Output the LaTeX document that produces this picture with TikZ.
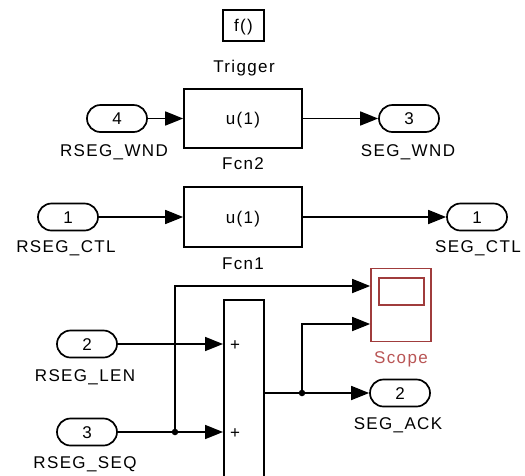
\documentclass[tikz,border=0pt]{standalone}
\usepackage{fontspec}
\newfontfamily\simfont{Liberation Sans}[LetterSpace=8]
\usetikzlibrary{arrows.meta}
\definecolor{scopered}{RGB}{160,60,60}
\definecolor{scopelbl}{RGB}{185,85,85}
\begin{document}
\begin{tikzpicture}[x=1pt,y=-1pt,
  every node/.style={font=\simfont\fontsize{17}{20}\selectfont, inner sep=0pt, text height=12pt, text depth=0pt},
  blk/.style={draw, line width=1.7pt, minimum width=118pt, minimum height=59pt},
  port/.style={draw, line width=1.7pt, rounded corners=13.5pt, minimum width=60pt, minimum height=27pt},
  sig/.style={line width=1.7pt, -{Triangle[length=18pt,width=14pt]}},
  dot/.style={circle, fill, minimum size=6.5pt, inner sep=0pt, text height=, text depth=}]
\clip (0,0) rectangle (525,475);
\fill[white] (0,0) rectangle (525,475);
% top part
\node[draw, line width=1.7pt, minimum width=41pt, minimum height=31pt] (trig) at (243.5,25.5) {f()};
\node (trigl) at (244,66) {Trigger};
\node[blk] (fcn2) at (243,118.5) {u(1)};
\node (fcn2l) at (243,163) {Fcn2};
\node[port] (in4) at (117,118.5) {4};
\node (in4l) at (114,150) {RSEG\_WND};
\node[port] (out3) at (409,118.5) {3};
\node (out3l) at (408,150) {SEG\_WND};
\node[blk, minimum height=60pt] (fcn1) at (243,217) {u(1)};
\node (fcn1l) at (243,263) {Fcn1};
\node[port] (in1) at (68,217) {1};
\node (in1l) at (66,246) {RSEG\_CTL};
\node[port] (out1) at (477,217) {1};
\node (out1l) at (478,246) {SEG\_CTL};
% scope
\node[draw=scopered, line width=1.7pt, minimum width=60pt, minimum height=73pt] (scope) at (401,305) {};
\node[draw=scopered, line width=1.7pt, minimum width=45pt, minimum height=27pt] (scopescr) at (401.5,291.5) {};
\node[text=scopelbl] (scopel) at (401,357) {Scope};
% sum
\node[draw, line width=1.7pt, minimum width=40pt, minimum height=200pt, anchor=north west] (sum) at (223,299) {};
\node (p1) at (235,344) {+};
\node (p2) at (235,432) {+};
\node[port] (in2) at (87,344) {2};
\node (in2l) at (85,375) {RSEG\_LEN};
\node[port] (in3) at (87,432) {3};
\node (in3l) at (85,462) {RSEG\_SEQ};
\node[port] (out2) at (400,393) {2};
\node (out2l) at (398,423) {SEG\_ACK};
% connectors
\draw[sig] (in4) -- (fcn2);
\draw[sig] (fcn2) -- (out3);
\draw[sig] (in1) -- (fcn1);
\draw[sig] (fcn1) -- (out1);
\draw[sig] (in2) -- (sum.west |- in2);
\draw[sig] (in3) -- (sum.west |- in3);
\node[dot] (d1) at (175,432) {};
\coordinate (c1) at (175,286);
\draw[sig] (d1.center) -- (c1) -- (scope.west |- c1);
\draw[sig] (sum.east |- out2) -- (out2);
\node[dot] (d2) at (302,393) {};
\coordinate (c2) at (302,324);
\draw[sig] (d2.center) -- (c2) -- (scope.west |- c2);
\end{tikzpicture}
\end{document}
